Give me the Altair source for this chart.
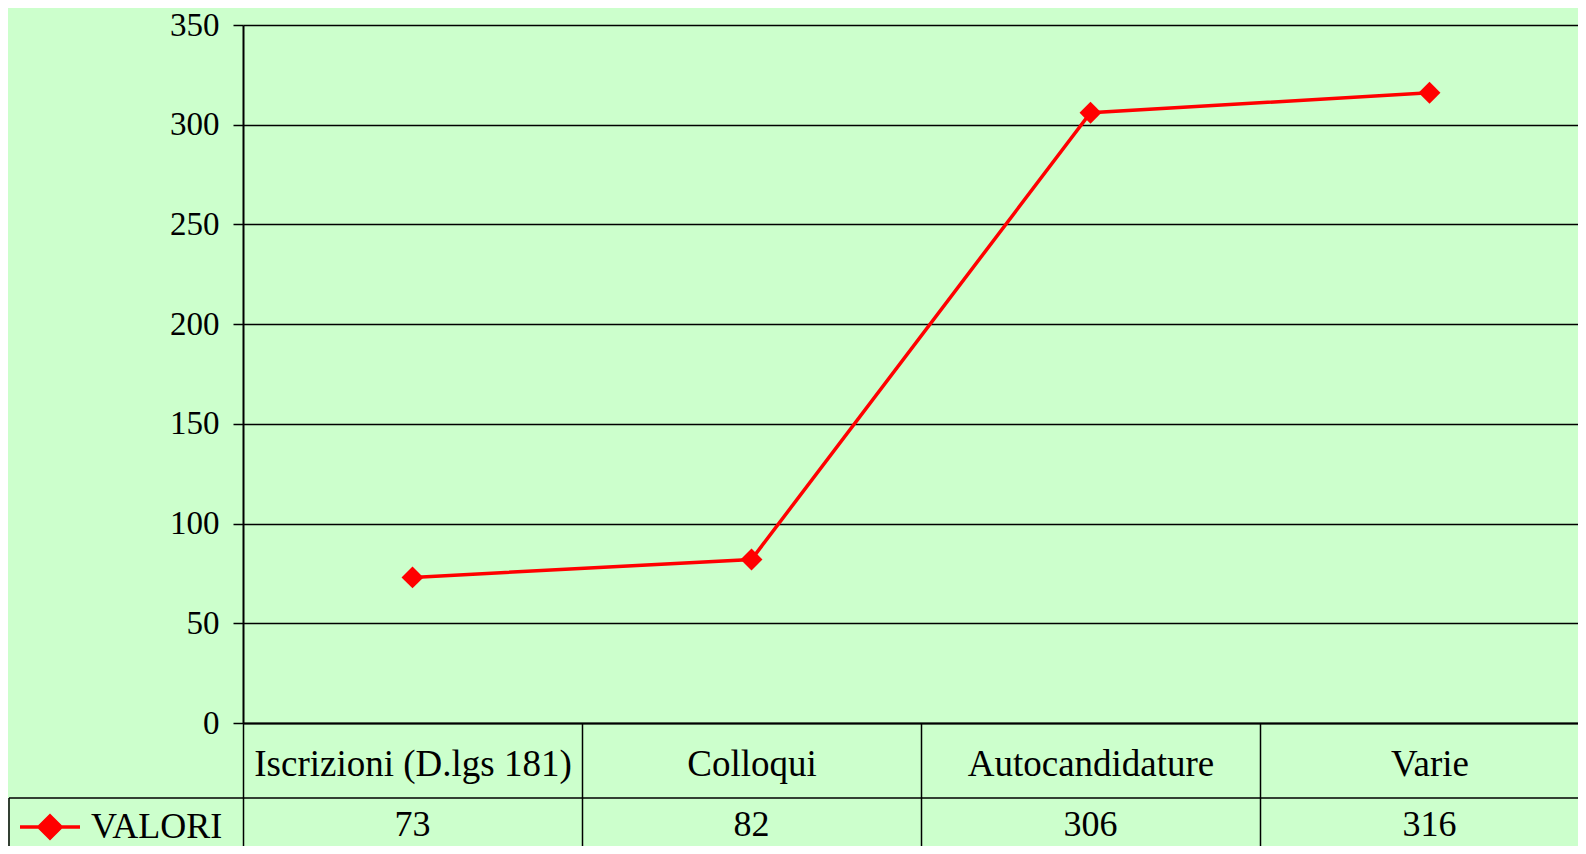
import altair as alt
import pandas as pd

categories = ["Iscrizioni (D.lgs 181)", "Colloqui", "Autocandidature", "Varie"]
values = [73, 82, 306, 316]
series_name = "VALORI"
y_ticks = [0, 50, 100, 150, 200, 250, 300, 350]

df = pd.DataFrame({
    "categoria": categories,
    "valore": values,
    "serie": [series_name] * len(categories),
})

W, H = 1335, 698
COL_W = 339
HEADER_H = 75
BOTTOM = 123
FONT = "Liberation Serif"
BG = "#CCFFCC"
TICK_LEN = BOTTOM + 10
VAL_OFFSET = 27

x_enc = alt.X(
    "categoria:N",
    sort=categories,
    scale=alt.Scale(type="band", range=[0, COL_W * len(categories)], paddingInner=0, paddingOuter=0),
    axis=alt.Axis(
        title=None, orient="bottom", labelAngle=0, labelFont=FONT, labelFontSize=37,
        labelColor="black", labelLimit=0, labelBaseline="middle",
        labelPadding=41 - TICK_LEN, labelOverlap=False,
        tickBand="extent", tickSize=TICK_LEN, tickColor="black", tickWidth=1.5,
        domainColor="black", domainWidth=2, grid=False,
    ),
)
y_enc = alt.Y(
    "valore:Q",
    scale=alt.Scale(domain=[0, 350], nice=False),
    axis=alt.Axis(
        title=None, values=y_ticks, labelFont=FONT, labelFontSize=33, labelColor="black",
        labelPadding=14, tickSize=10, tickColor="black", tickWidth=1.5,
        domainColor="black", domainWidth=2, grid=True, gridColor="black", gridWidth=1.5,
    ),
)
color_enc = alt.Color(
    "serie:N",
    scale=alt.Scale(range=["red"]),
    legend=alt.Legend(
        title=None, orient="none", legendX=-225, legendY=H + HEADER_H + VAL_OFFSET - 30, padding=0,
        symbolType="M-1,0L1,0M0,-0.37L0.37,0L0,0.37L-0.37,0Z",
        symbolSize=3600, symbolStrokeWidth=3.5, symbolFillColor="red", symbolStrokeColor="red",
        labelFont=FONT, labelFontSize=36, labelColor="black", labelOffset=9, labelLimit=0,
    ),
)

base = alt.Chart(df)
line = base.mark_line(strokeWidth=3.5).encode(x=x_enc, y=y_enc, color=color_enc)
points = base.mark_point(shape="diamond", filled=True, size=480, opacity=1).encode(
    x=x_enc, y=y_enc, color=color_enc
)
value_text = base.mark_text(font=FONT, fontSize=36, color="black", baseline="middle").encode(
    x=x_enc, y=alt.value(H + HEADER_H + VAL_OFFSET), text="valore:Q"
)

border_df = pd.DataFrame({"b": [0]})
row_line = alt.Chart(border_df).mark_rule(color="black", strokeWidth=1.5).encode(
    x=alt.value(-234), x2=alt.value(W), y=alt.value(H + HEADER_H)
)
left_line = alt.Chart(border_df).mark_rule(color="black", strokeWidth=1.5).encode(
    x=alt.value(-234), y=alt.value(H + HEADER_H), y2=alt.value(H + BOTTOM + 10)
)

chart = alt.layer(line, points, value_text, row_line, left_line).properties(
    width=W, height=H,
    autosize=alt.AutoSizeParams(type="none"),
    padding={"left": 235, "top": 17, "right": 0, "bottom": BOTTOM},
    background=BG,
).configure_view(stroke=None)

chart.save("out.html", embed_options={"renderer": "svg", "actions": False})
